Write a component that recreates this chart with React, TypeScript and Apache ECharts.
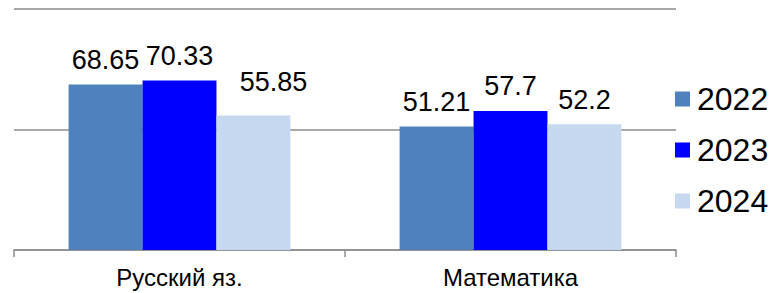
import React, { useEffect, useRef } from "react";
import * as echarts from "echarts";

const categories = ["Русский яз.", "Математика"];
const years = ["2022", "2023", "2024"];
const values2022 = [68.65, 51.21];
const values2023 = [70.33, 57.7];
const values2024 = [55.85, 52.2];
const colors = ["#4F81BD", "#0000FF", "#C6D9F1"];

const FONT = "Liberation Sans";

export default function App() {
  const ref = useRef<HTMLDivElement>(null);
  useEffect(() => {
    if (!ref.current) return;
    const chart = echarts.init(ref.current, undefined, { renderer: "svg" });
    const seriesValues = [values2022, values2023, values2024];
    const labelBase = {
      show: true,
      position: "top",
      distance: 11,
      color: "#000",
      fontSize: 27,
      fontFamily: FONT,
    };
    chart.setOption({
      animation: false,
      textStyle: { fontFamily: FONT },
      grid: { left: 14, right: 99, top: 9, bottom: 43, containLabel: false },
      legend: {
        orient: "vertical",
        left: 675,
        top: 83,
        padding: 0,
        itemWidth: 15,
        itemHeight: 15,
        itemGap: 19,
        icon: "rect",
        textStyle: { fontSize: 32, color: "#000", fontFamily: FONT, padding: [0, 0, 0, 2] },
        data: years,
      },
      xAxis: {
        type: "category",
        data: categories,
        axisLine: { show: true, lineStyle: { color: "#8C8C8C", width: 1.5 } },
        axisTick: { show: true, length: 7, lineStyle: { color: "#8C8C8C", width: 1.5 } },
        axisLabel: { color: "#000", fontSize: 24, fontFamily: FONT, margin: 15 },
      },
      yAxis: {
        type: "value",
        min: 0,
        max: 100,
        interval: 50,
        axisLine: { show: false },
        axisTick: { show: false },
        axisLabel: { show: false },
        splitLine: { lineStyle: { color: "#8C8C8C", width: 1.5 } },
      },
      series: years.map((y, i) => ({
        name: y,
        type: "bar",
        barGap: "0%",
        barCategoryGap: "33%",
        itemStyle: { color: colors[i] },
        label: labelBase,
        data: seriesValues[i].map((v, j) =>
          i === 2 && j === 0
            ? { value: v, label: { ...labelBase, offset: [20, -9] } }
            : v
        ),
      })),
    });
    return () => chart.dispose();
  }, []);
  return <div ref={ref} style={{ width: 775, height: 293, position: "absolute", left: 0, top: 0, background: "#fff" }} />;
}
